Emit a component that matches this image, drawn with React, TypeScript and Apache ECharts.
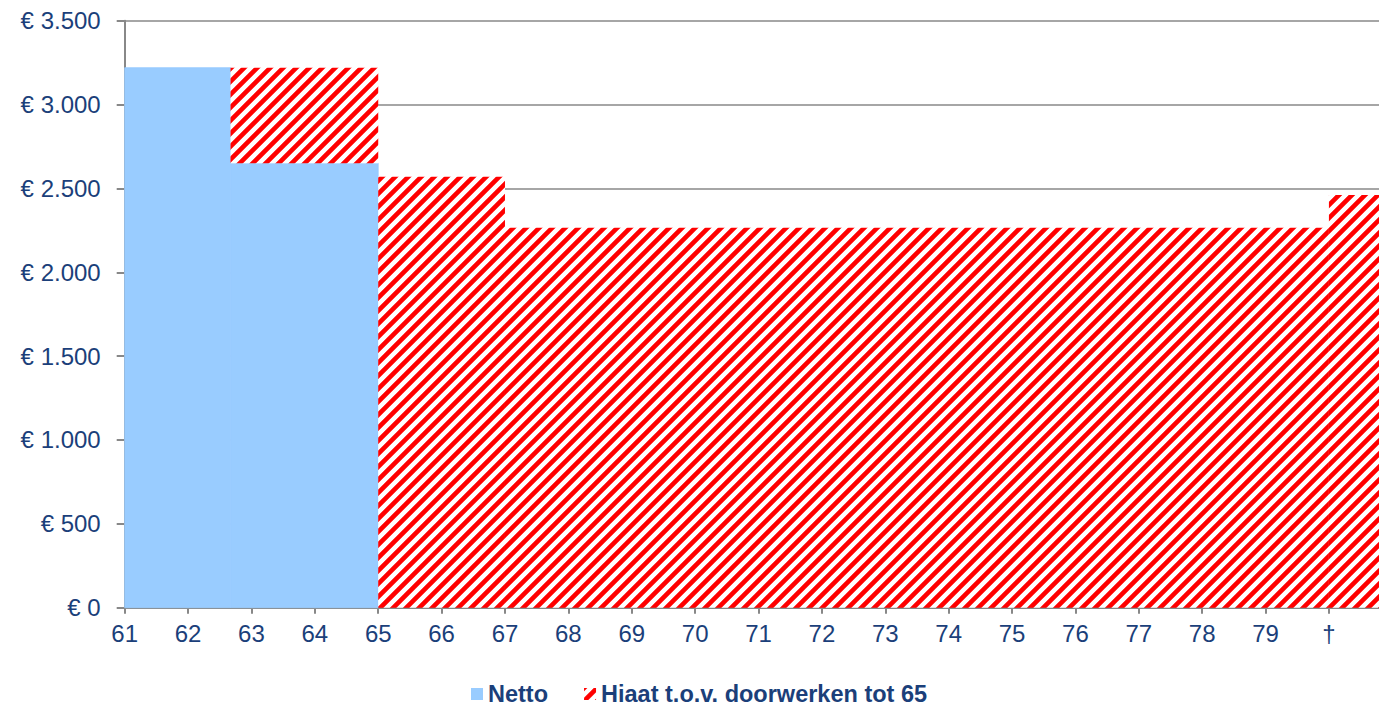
import React, { useEffect, useRef } from "react";
import * as echarts from "echarts";

// Step segments (age in years)
const segStart = [61, 62.67, 65, 67, 80];
const segEnd = [62.67, 65, 67, 80, 81];
const nettoValues = [3220, 2650, 0, 0, 0];
const hiaatValues = [0, 570, 2570, 2265, 2460];

const xTickValues = [61, 62, 63, 64, 65, 66, 67, 68, 69, 70, 71, 72, 73, 74, 75, 76, 77, 78, 79, 80];
const xTickLabels = ["61", "62", "63", "64", "65", "66", "67", "68", "69", "70", "71", "72", "73", "74", "75", "76", "77", "78", "79", "†"];
const seriesNames = ["Netto", "Hiaat t.o.v. doorwerken tot 65"];

const BLUE = "#99CCFF";
const TEXT = "#1B3F7A";
const GREY = "#888888";

function makeHatch() {
  const s = 13;
  const c = document.createElement("canvas");
  c.width = s;
  c.height = s;
  const g = c.getContext("2d") as CanvasRenderingContext2D;
  g.fillStyle = "#ffffff";
  g.fillRect(0, 0, s, s);
  g.strokeStyle = "#ff0000";
  g.lineWidth = 4.6;
  g.beginPath();
  for (const k of [-s, 0, s]) {
    g.moveTo(k - 2, s + 2);
    g.lineTo(k + s + 2, -2);
  }
  g.stroke();
  return c;
}

export default function App() {
  const ref = useRef<HTMLDivElement>(null);

  useEffect(() => {
    if (!ref.current) return;
    const chart = echarts.init(ref.current, undefined, { renderer: "svg" });
    const hatch = { image: makeHatch(), repeat: "repeat" } as any;

    const nettoData: number[][] = [];
    const hiaatData: number[][] = [];
    for (let i = 0; i < segStart.length; i++) {
      if (nettoValues[i] > 0) nettoData.push([segStart[i], segEnd[i], 0, nettoValues[i]]);
      if (hiaatValues[i] > 0)
        hiaatData.push([segStart[i], segEnd[i], nettoValues[i], nettoValues[i] + hiaatValues[i]]);
    }

    const mkRender = (fill: any, stroke: boolean) => (params: any, api: any) => {
      const p0 = api.coord([api.value(0), api.value(2)]);
      const p1 = api.coord([api.value(1), api.value(3)]);
      return {
        type: "rect",
        shape: { x: p0[0], y: p1[1], width: p1[0] - p0[0], height: p0[1] - p1[1] },
        style: stroke ? { fill, stroke: fill, lineWidth: 0.8 } : { fill },
      };
    };

    const labelOf = (v: number) => {
      const i = xTickValues.indexOf(Math.round(v));
      return Math.abs(v - Math.round(v)) < 1e-6 && i >= 0 ? xTickLabels[i] : "";
    };

    chart.setOption({
      animation: false,
      backgroundColor: "#ffffff",
      grid: { left: 124.7, right: 0, top: 20.7, bottom: 99.3, containLabel: false },
      legend: {
        left: 471,
        top: 682,
        padding: 0,
        itemWidth: 12,
        itemHeight: 12,
        itemGap: 36,
        textStyle: { fontFamily: "Liberation Sans", fontSize: 23.5, fontWeight: "bold", color: TEXT, lineHeight: 24 },
        data: [
          { name: seriesNames[0], icon: "rect", itemStyle: { color: BLUE } },
          { name: seriesNames[1], icon: "rect", itemStyle: { color: hatch } },
        ],
      },
      xAxis: {
        type: "value",
        min: 61,
        max: 80.79,
        interval: 1,
        axisLine: { show: true, lineStyle: { color: GREY, width: 2 } },
        axisTick: { show: true, length: 6, lineStyle: { color: GREY, width: 2 }, customValues: xTickValues },
        splitLine: { show: false },
        axisLabel: {
          margin: 14,
          fontFamily: "Liberation Sans",
          fontSize: 24,
          color: TEXT,
          customValues: xTickValues,
          formatter: labelOf,
        },
      },
      yAxis: {
        type: "value",
        min: 0,
        max: 3500,
        interval: 500,
        axisLine: { show: true, lineStyle: { color: GREY, width: 2 } },
        axisTick: { show: true, length: 8, lineStyle: { color: GREY, width: 2 } },
        splitLine: { show: true, lineStyle: { color: GREY, width: 1.5 } },
        axisLabel: {
          margin: 24,
          fontFamily: "Liberation Sans",
          fontSize: 24,
          color: TEXT,
          formatter: (v: number) => "€ " + String(v).replace(/\B(?=(\d{3})+(?!\d))/g, "."),
        },
      },
      series: [
        {
          name: seriesNames[0],
          type: "custom",
          itemStyle: { color: BLUE },
          encode: { x: [0, 1], y: [2, 3] },
          renderItem: mkRender(BLUE, true),
          data: nettoData,
          z: 3,
        },
        {
          name: seriesNames[1],
          type: "custom",
          itemStyle: { color: hatch },
          encode: { x: [0, 1], y: [2, 3] },
          renderItem: mkRender(hatch, false),
          data: hiaatData,
          z: 3,
        },
      ],
    });
    return () => chart.dispose();
  }, []);

  return (
    <div
      ref={ref}
      style={{ position: "fixed", left: 0, top: 0, width: 1379, height: 707, background: "#fff" }}
    />
  );
}
